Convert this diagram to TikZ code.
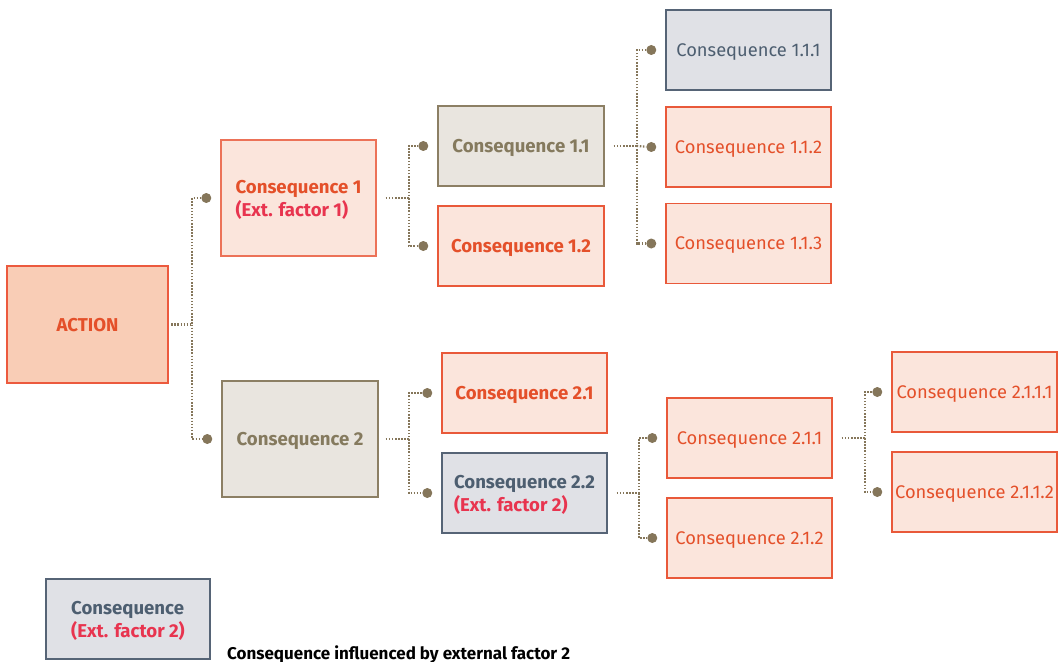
\documentclass[tikz,border=0pt]{standalone}
\usepackage{fontspec}
\setmainfont{Fira Sans}
\usetikzlibrary{calc}
\definecolor{orangetxt}{HTML}{E4502A}
\definecolor{orangeln}{HTML}{E9593A}
\definecolor{pinkfill}{HTML}{FBE5DC}
\definecolor{actfill}{HTML}{F9CDB6}
\definecolor{actln}{HTML}{EC5A3E}
\definecolor{beigefill}{HTML}{E9E5DF}
\definecolor{beigeln}{HTML}{8C7F64}
\definecolor{beigetxt}{HTML}{857A5E}
\definecolor{slatefill}{HTML}{E0E1E6}
\definecolor{slateln}{HTML}{566476}
\definecolor{slatetxt}{HTML}{4D5E70}
\definecolor{redtxt}{HTML}{E8344F}
\definecolor{linkcol}{HTML}{85765A}
\tikzset{
  box/.style={draw, line width=1.4bp, inner sep=0pt, align=left, text depth=0pt,
    minimum width=165bp, minimum height=80bp,
    font=\fontsize{18.3bp}{23bp}\selectfont},
  orangebox/.style={box, fill=pinkfill, draw=orangeln, text=orangetxt},
  beigebox/.style={box, fill=beigefill, draw=beigeln, text=beigetxt},
  slatebox/.style={box, fill=slatefill, draw=slateln, text=slatetxt},
  strong/.style={font=\fontsize{18.6bp}{23bp}\selectfont\bfseries},
  conn/.style={draw=linkcol, line width=2.2bp, dash pattern=on 1.5bp off 1.6bp},
  dot/.style={circle, fill=linkcol, inner sep=0pt, minimum size=10bp},
}
\newcommand{\ext}[1]{\textcolor{redtxt}{#1}}
\begin{document}
\begin{tikzpicture}[x=1bp, y=-1bp]
\useasboundingbox (0,0) rectangle (1060,662);

% root and first level
\node[box, strong, fill=actfill, draw=actln, line width=2.4bp, text=orangetxt,
      minimum width=161bp, minimum height=117bp] (act) at (87.5,324.5) {ACTION};
\node[orangebox, strong, draw=orangeln!85, minimum width=155bp, minimum height=116bp] (c1) at (298.5,198)
  {Consequence 1\\\ext{(Ext. factor 1)}};
\node[beigebox, strong, minimum width=156bp, minimum height=116bp] (c2) at (300,439) {Consequence 2};

% second level
\node[beigebox, strong, minimum width=166bp] (c11) at (521,146) {Consequence 1.1};
\node[orangebox, strong, minimum width=166bp] (c12) at (521,246) {Consequence 1.2};
\node[orangebox, strong] (c21) at (524.5,393) {Consequence 2.1};
\node[slatebox, strong] (c22) at (524.5,493) {Consequence 2.2\\\ext{(Ext. factor 2)}};

% third level
\node[slatebox] (c111) at (748.5,50) {Consequence 1.1.1};
\node[orangebox] (c112) at (748.5,147) {Consequence 1.1.2};
\node[orangebox] (c113) at (748.5,243.5) {Consequence 1.1.3};
\node[orangebox] (c211) at (749.5,438) {Consequence 2.1.1};
\node[orangebox] (c212) at (749.5,538) {Consequence 2.1.2};

% fourth level
\node[orangebox] (c2111) at (974.5,392) {Consequence 2.1.1.1};
\node[orangebox] (c2112) at (974.5,492) {Consequence 2.1.1.2};

% end dots in front of each child
\foreach \n in {c1,c2,c11,c12,c21,c22,c111,c112,c113,c211,c212,c2111,c2112}
  \node[dot] (d\n) at ($(\n.west)+(-14,0)$) {};

% dotted branch connectors
\draw[conn] ($(act.east)+(2,0)$) -- ++(21,0) coordinate (ja) |- (dc1);
\draw[conn] (ja) |- (dc2);
\draw[conn] ($(c1.east)+(9,0)$) -- ++(23,0) coordinate (jb) |- (dc11);
\draw[conn] (jb) |- (dc12);
\draw[conn] ($(c2.east)+(7,0)$) -- ++(23,0) coordinate (jc) |- (dc21);
\draw[conn] (jc) |- (dc22);
\draw[conn] ($(c11.east)+(9,0)$) -- ++(23,0) coordinate (jd) |- (dc111);
\draw[conn] (jd) -- (dc112);
\draw[conn] (jd) |- (dc113);
\draw[conn] ($(c22.east)+(9,0)$) -- ++(22,0) coordinate (je) |- (dc211);
\draw[conn] (je) |- (dc212);
\draw[conn] ($(c211.east)+(9,0)$) -- ++(23,0) coordinate (jf) |- (dc2111);
\draw[conn] (jf) |- (dc2112);

% legend
\node[slatebox, strong, minimum width=164bp] (key) at (128,619)
  {Consequence\\\ext{(Ext. factor 2)}};
\node[anchor=base west, inner sep=0pt, font=\fontsize{17bp}{20bp}\selectfont\bfseries]
  (keytxt) at (227,659) {Consequence influenced by external factor 2};
\end{tikzpicture}
\end{document}
